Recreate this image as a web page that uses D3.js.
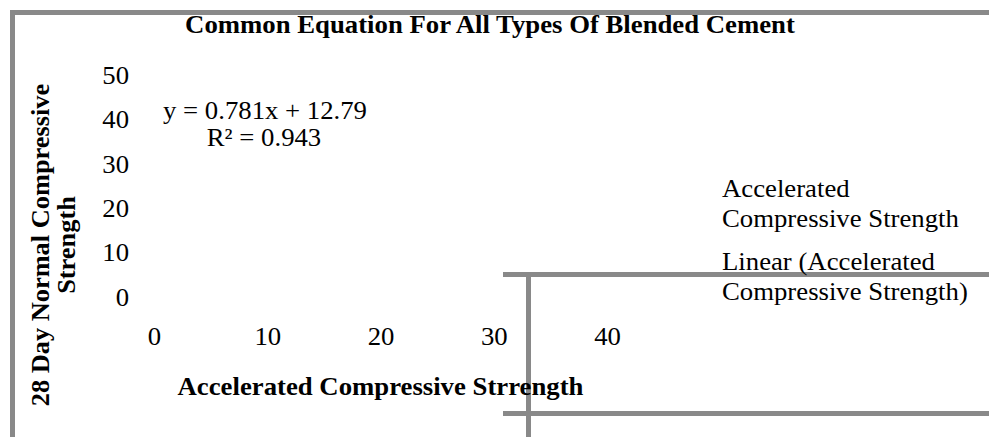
<!DOCTYPE html>
<html>
<head>
<meta charset="utf-8">
<script src="https://cdn.jsdelivr.net/npm/d3@7"></script>
<style>
  html, body { margin: 0; padding: 0; background: #fff; }
  svg { display: block; }
  text { font-family: "Liberation Serif", "Times New Roman", serif; fill: #000; }
</style>
</head>
<body>
<div id="chart"></div>
<script>
const chartTitle = "Common Equation For All Types Of Blended Cement";
const xTitle = "Accelerated Compressive Strrength";
const yTitleLines = ["28 Day Normal Compressive", "Strength"];
const xTicks = [0, 10, 20, 30, 40];
const yTicks = [0, 10, 20, 30, 40, 50];
const legendLabels = [
  ["Accelerated", "Compressive Strength"],
  ["Linear (Accelerated", "Compressive Strength)"]
];
const trendSlope = 0.781;
const trendIntercept = 12.79;
const rSquared = 0.943;

const W = 989, H = 437;
const FS = 25;
const SX = 1.07; // glyph widening to match reference proportions
const svg = d3.select("#chart").append("svg").attr("width", W).attr("height", H);

const x = d3.scaleLinear().domain([0, 40]).range([154, 607]);
const y = d3.scaleLinear().domain([0, 50]).range([297, 75]);

const gray = "#898989";

// frame artifacts
svg.append("rect").attr("x", 10).attr("y", 10).attr("width", W - 10).attr("height", 5).attr("fill", gray);
svg.append("rect").attr("x", 10).attr("y", 10).attr("width", 5).attr("height", H - 10).attr("fill", gray);
svg.append("rect").attr("x", 503).attr("y", 272).attr("width", W - 503).attr("height", 5).attr("fill", gray);
svg.append("rect").attr("x", 503).attr("y", 411).attr("width", W - 503).attr("height", 5).attr("fill", gray);
svg.append("rect").attr("x", 526).attr("y", 272).attr("width", 5).attr("height", H - 272).attr("fill", gray);

function label(px, py, str, opts = {}) {
  const t = svg.append("text")
    .attr("transform", `translate(${px},${py}) scale(${SX},1)`)
    .attr("text-anchor", opts.anchor || "start")
    .attr("font-size", FS)
    .text(str);
  if (opts.bold) t.attr("font-weight", "bold");
  return t;
}

// title
label(490, 33, chartTitle, { anchor: "middle", bold: true });

// y axis (labels only)
const yAxis = d3.axisLeft(y).tickValues(yTicks).tickSize(0).tickPadding(0).tickFormat(d3.format("d"));
const gy = svg.append("g").attr("transform", "translate(129,0)").call(yAxis);
gy.select(".domain").remove();
gy.selectAll("text").attr("font-size", FS).attr("font-family", "Liberation Serif")
  .attr("fill", "#000").attr("dy", "0.33em").attr("transform", `scale(${SX},1)`);

// x axis (labels only)
const xAxis = d3.axisBottom(x).tickValues(xTicks).tickSize(0).tickPadding(0).tickFormat(d3.format("d"));
const gx = svg.append("g").attr("transform", "translate(0,345)").call(xAxis);
gx.select(".domain").remove();
gx.selectAll("text").attr("font-size", FS).attr("font-family", "Liberation Serif")
  .attr("fill", "#000").attr("dy", 0).attr("transform", `scale(${SX},1)`);

// axis titles
label(380.5, 395, xTitle, { anchor: "middle", bold: true });

const yt = svg.append("text").attr("transform", `translate(49,245) rotate(-90) scale(1.055,1)`)
  .attr("text-anchor", "middle").attr("font-weight", "bold").attr("font-size", FS);
yTitleLines.forEach((l, i) => {
  yt.append("tspan").attr("x", 0).attr("y", i * 26).text(l);
});

// trendline equation
label(265, 119, `y = ${trendSlope}x + ${trendIntercept}`, { anchor: "middle" });
label(264, 146, `R² = ${rSquared}`, { anchor: "middle" });

// legend
legendLabels.forEach((lines, i) => {
  lines.forEach((l, j) => {
    label(722, 197 + i * 73 + j * 30, l);
  });
});
</script>
</body>
</html>
